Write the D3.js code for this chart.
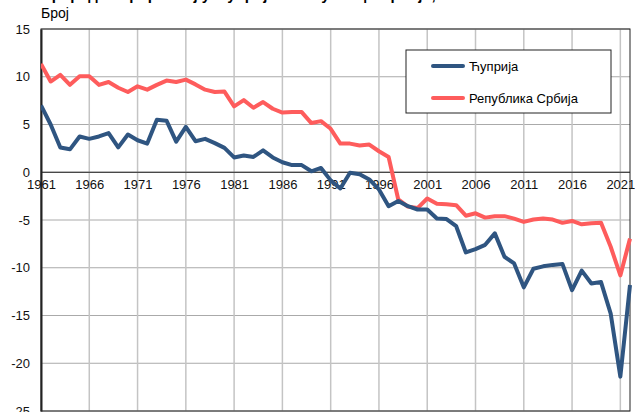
<!DOCTYPE html>
<html>
<head>
<meta charset="utf-8" />
<title>Природни прираштај</title>
<style>
  body { margin: 0; background: #fff; }
  text { font-family: "Liberation Sans", Arial, sans-serif; }
</style>
</head>
<body>
<svg id="chart" width="635" height="412"></svg>
<script src="https://d3js.org/d3.v7.min.js"></script>
<script>
// ---- data ----
var years = d3.range(1961, 2023);
var seriesNames = ["Ћуприја", "Република Србија"];
var cuprija = [7.0, 5.0, 2.6, 2.4, 3.75, 3.5, 3.75, 4.1, 2.6, 3.95,
  3.35, 3.0, 5.5, 5.4, 3.2, 4.75, 3.25, 3.5, 3.05, 2.55,
  1.55, 1.75, 1.6, 2.3, 1.55, 1.05, 0.75, 0.75, 0.1, 0.45,
  -0.85, -1.7, -0.05, -0.2, -0.75, -1.8, -3.55, -3.0, -3.55, -3.9,
  -3.9, -4.85, -4.9, -5.65, -8.4, -8.05, -7.6, -6.4, -8.85, -9.55,
  -12.05, -10.1, -9.85, -9.7, -9.6, -12.35, -10.3, -11.65, -11.5, -14.8,
  -21.4, -11.8];
var srbija = [11.35, 9.5, 10.2, 9.15, 10.05, 10.05, 9.15, 9.45, 8.85, 8.4,
  9.0, 8.65, 9.15, 9.6, 9.45, 9.7, 9.2, 8.65, 8.4, 8.45,
  6.9, 7.55, 6.75, 7.35, 6.65, 6.25, 6.3, 6.3, 5.15, 5.35,
  4.55, 3.0, 3.0, 2.8, 2.9, 2.2, 1.6, -2.85, -3.6, -3.75,
  -2.75, -3.3, -3.35, -3.45, -4.55, -4.3, -4.75, -4.6, -4.6, -4.85,
  -5.2, -4.95, -4.85, -4.95, -5.3, -5.1, -5.45, -5.35, -5.3, -7.8,
  -10.8, -6.95];
var yTicks = [15, 10, 5, 0, -5, -10, -15, -20, -25];
var xTicks = d3.range(1961, 2022, 5);

// ---- chart ----
var svg = d3.select("#chart");
var plot = { left: 41, right: 630, top: 29, bottom: 411 };

var x = d3.scaleLinear().domain([1961, 2022]).range([plot.left, plot.right]);
var y = d3.scaleLinear().domain([-25, 15]).range([plot.bottom, plot.top]);
var colors = d3.scaleOrdinal().domain(seriesNames).range(["#2f5581", "#fe5c5c"]);

// title (cut off at the top edge)
svg.append("text")
  .attr("x", plot.left)
  .attr("y", 0)
  .attr("font-size", 15)
  .attr("font-weight", "bold")
  .text("Природни прираштај у Ћуприји и Републици Србији, 1961–2022");

svg.append("text")
  .attr("x", 41)
  .attr("y", 18)
  .attr("font-size", 14)
  .text("Број");

// grid
var grid = svg.append("g");
grid.selectAll(".hgrid").data(yTicks).enter().append("line")
  .attr("x1", plot.left).attr("x2", plot.right)
  .attr("y1", function(d) { return y(d); })
  .attr("y2", function(d) { return y(d); })
  .attr("stroke", "#aaaaaa").attr("stroke-width", 1);
grid.selectAll(".vgrid").data(xTicks.slice(1)).enter().append("line")
  .attr("y1", plot.top).attr("y2", plot.bottom)
  .attr("x1", function(d) { return x(d); })
  .attr("x2", function(d) { return x(d); })
  .attr("stroke", "#c4c4c4").attr("stroke-width", 1.5);

// frame
svg.append("rect")
  .attr("x", plot.left).attr("y", plot.top)
  .attr("width", plot.right - plot.left).attr("height", plot.bottom - plot.top)
  .attr("fill", "none").attr("stroke", "#222").attr("stroke-width", 1);

// zero line
svg.append("line")
  .attr("x1", plot.left).attr("x2", plot.right)
  .attr("y1", y(0)).attr("y2", y(0))
  .attr("stroke", "#222").attr("stroke-width", 1);

// y axis (plain hyphen for negatives, like the original)
var yAxis = svg.append("g")
  .attr("transform", "translate(" + plot.left + ",0)")
  .call(d3.axisLeft(y).tickValues(yTicks).tickSize(0).tickPadding(11)
    .tickFormat(function(d) { return String(d); }));
yAxis.select(".domain").attr("stroke", "#222").attr("stroke-width", 2);
yAxis.selectAll("text").attr("font-size", 13).attr("fill", "#111")
  .style("font-family", "'Liberation Sans', Arial, sans-serif");

// x axis labels sitting under the zero line
var xAxis = svg.append("g")
  .attr("transform", "translate(0," + y(0) + ")")
  .call(d3.axisBottom(x).tickValues(xTicks).tickSize(0).tickPadding(8)
    .tickFormat(function(d) { return String(d); }));
xAxis.select(".domain").remove();
xAxis.selectAll("text").attr("font-size", 13).attr("fill", "#111")
  .style("font-family", "'Liberation Sans', Arial, sans-serif");

// lines
var line = d3.line()
  .x(function(d, i) { return x(years[i]); })
  .y(function(d) { return y(d); });

var data = [
  { id: seriesNames[1], values: srbija },
  { id: seriesNames[0], values: cuprija }
];

svg.append("defs").append("clipPath").attr("id", "clip")
  .append("rect").attr("x", plot.left).attr("y", plot.top - 5)
  .attr("width", plot.right - plot.left + 2).attr("height", plot.bottom - plot.top + 5);

svg.append("g").attr("clip-path", "url(#clip)")
  .selectAll("path").data(data).enter().append("path")
  .attr("d", function(d) { return line(d.values); })
  .attr("fill", "none")
  .attr("stroke", function(d) { return colors(d.id); })
  .attr("stroke-width", 4)
  .attr("stroke-linejoin", "round");

// legend
var legend = svg.append("g");
legend.append("rect")
  .attr("x", 406).attr("y", 50).attr("width", 205).attr("height", 63)
  .attr("fill", "#fff").attr("stroke", "#222").attr("stroke-width", 1);
var items = legend.selectAll(".item").data(seriesNames).enter().append("g")
  .attr("transform", function(d, i) { return "translate(433," + (66 + i * 32) + ")"; });
items.append("line")
  .attr("x1", 0).attr("x2", 30)
  .attr("stroke", function(d) { return colors(d); })
  .attr("stroke-width", 4).attr("stroke-linecap", "round");
items.append("text")
  .attr("x", 36).attr("y", 5)
  .attr("font-size", 13)
  .text(function(d) { return d; });
</script>
</body>
</html>
